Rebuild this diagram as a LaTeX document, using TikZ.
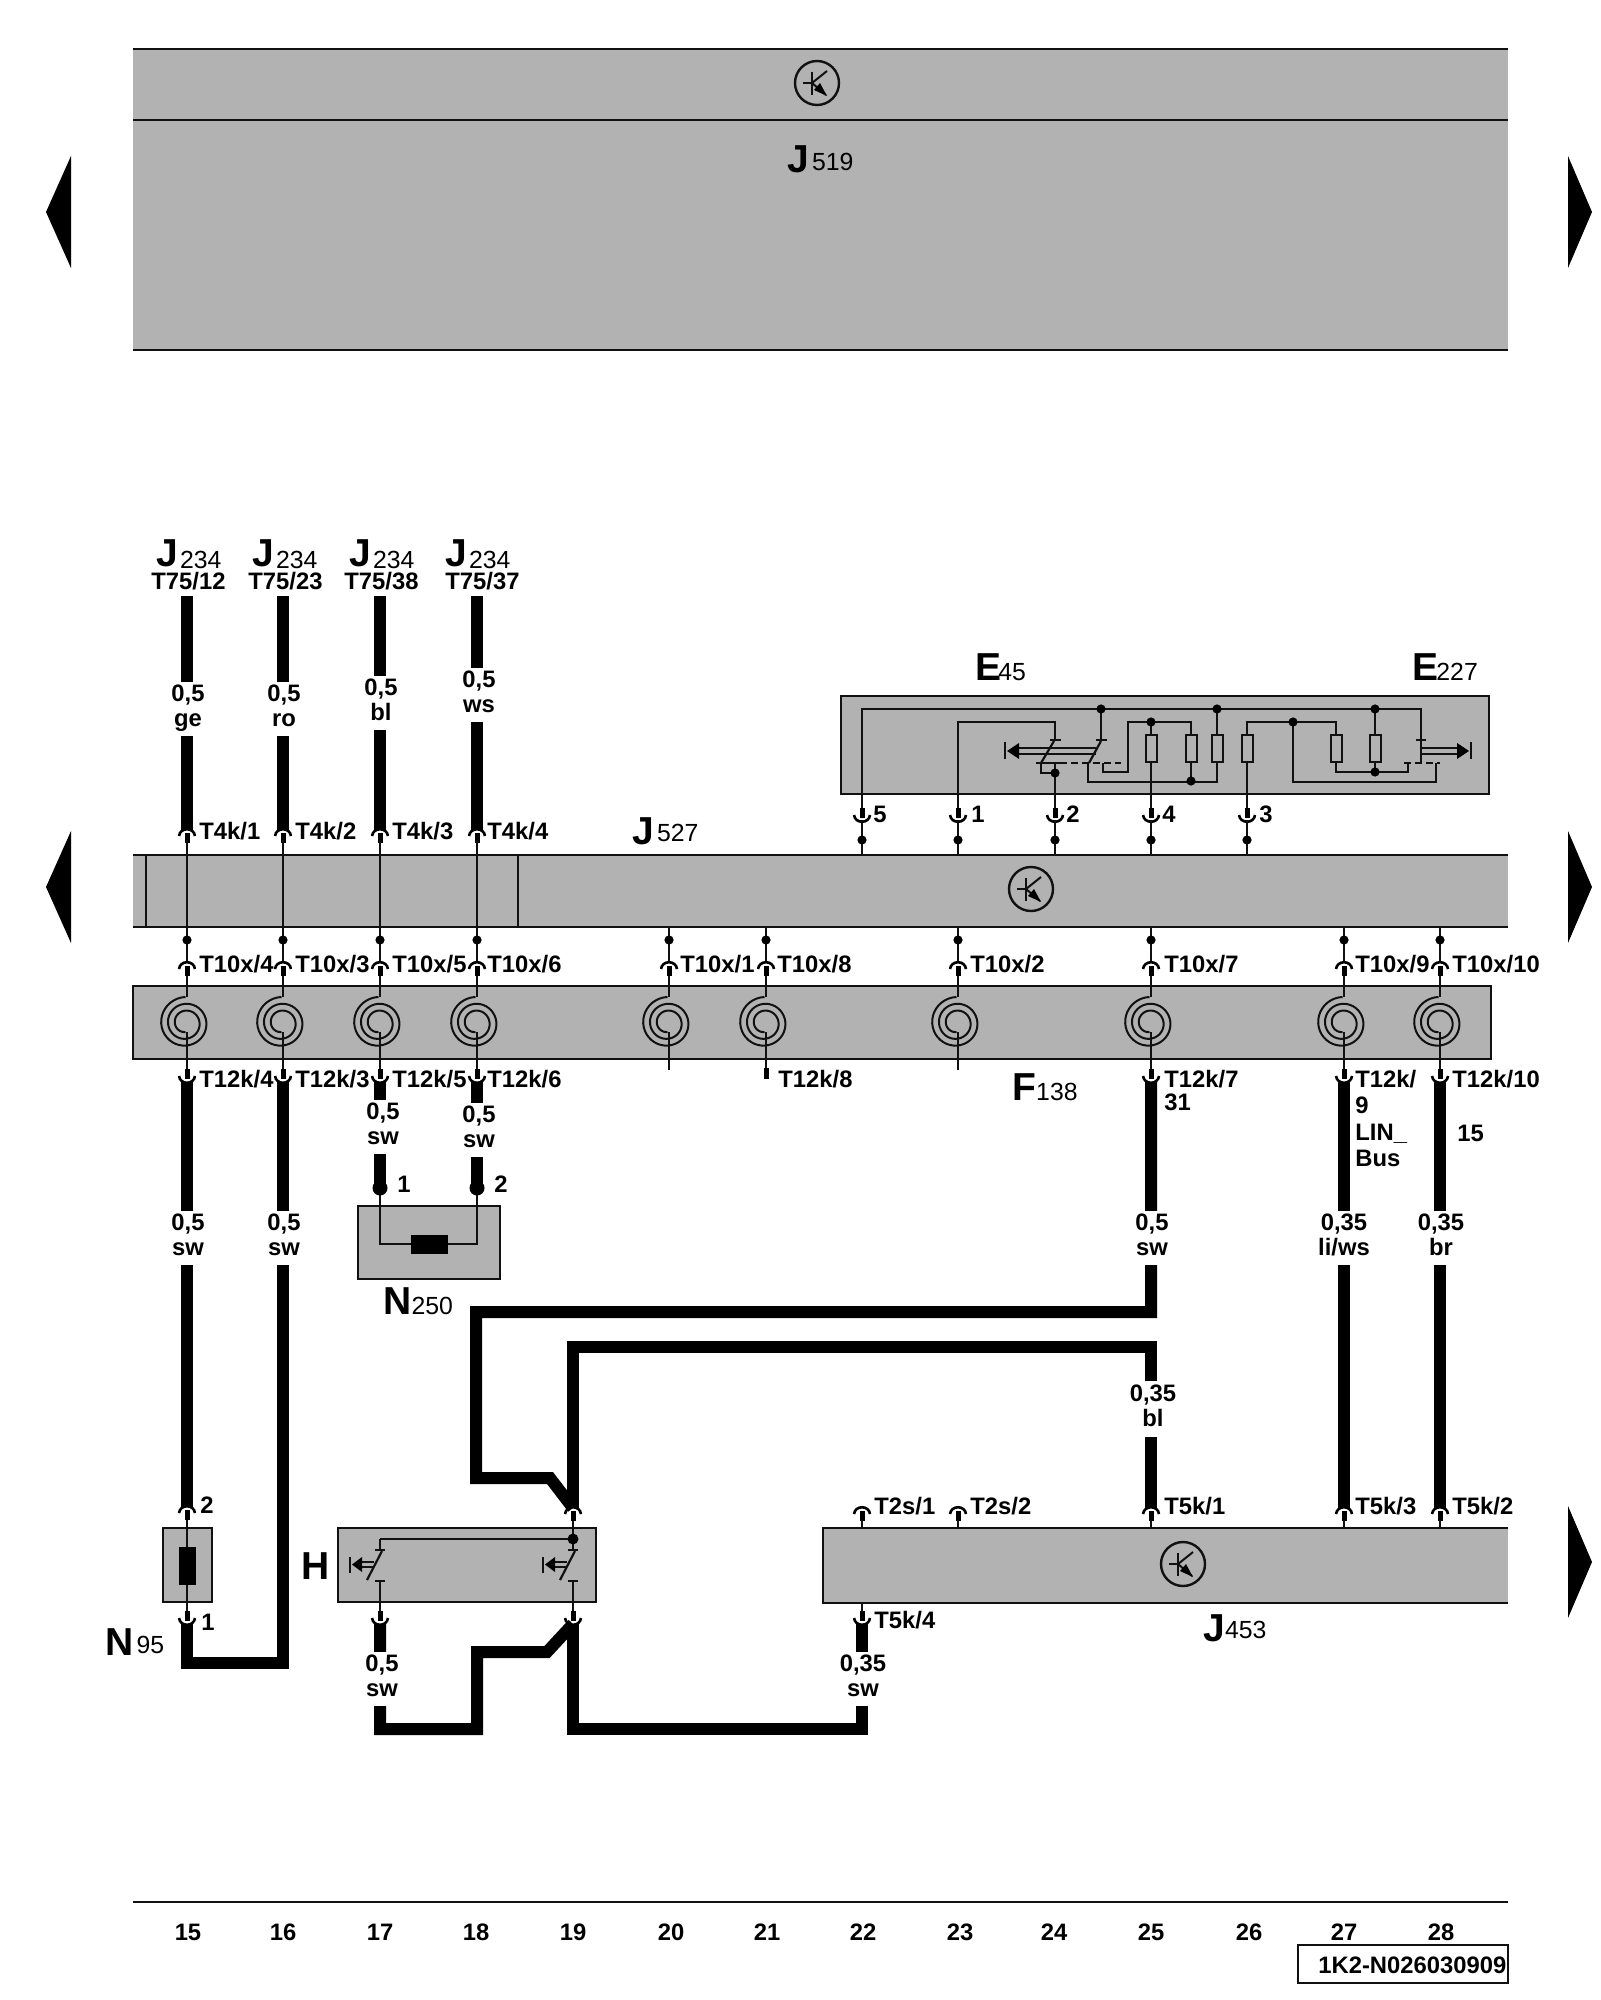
\documentclass[tikz,border=0pt]{standalone}
\usepackage{fontspec}
\setmainfont{Liberation Sans}
\usepackage{tikz}
\usetikzlibrary{positioning,arrows.meta}
\definecolor{barfill}{HTML}{B2B2B2}
\definecolor{inkline}{HTML}{111111}
\tikzset{
  thinw/.style={line width=1pt,inkline},
  wire/.style={line width=6pt,black,miter limit=10},
  pinw/.style={line width=2.5pt,black},
  archw/.style={line width=1.3pt,black},
  archgap/.style={line width=0.8pt,white},
  unitbox/.style={line width=1.1pt,inkline,fill=barfill},
  barline/.style={line width=1.1pt,inkline},
  txt/.style={inner sep=0pt,anchor=base west,font=\fontsize{11.9}{12.5}\selectfont\bfseries},
  num/.style={inner sep=0pt,anchor=base,font=\fontsize{11.9}{12.5}\selectfont\bfseries},
  gauge/.style={fill=white,inner xsep=1pt,inner ysep=0pt,minimum height=27pt,yshift=-1.2pt,align=center,font=\fontsize{11.9}{12.5}\selectfont\bfseries},
  resist/.style={draw=inkline,line width=1pt,fill=barfill,minimum width=5.5pt,minimum height=13.5pt,inner sep=0pt},
  contact/.style={line width=1.1pt,inkline}
}
\newcommand{\pinup}[3]{
  \draw[archw] (#2-8,#3+7) .. controls (#2-7,#3-2) and (#2+7,#3-2) .. (#2+8,#3+7);
  \draw[archgap] (#2-5,#3+8) .. controls (#2-4.5,#3+1) and (#2+4.5,#3+1) .. (#2+5,#3+8);
  \draw[pinw] (#2,#3+4) -- (#2,#3+14);
  \coordinate (#1) at (#2,#3+1);
}
\newcommand{\pindown}[3]{
  \draw[archw] (#2-8,#3-7) .. controls (#2-7,#3+2) and (#2+7,#3+2) .. (#2+8,#3-7);
  \draw[archgap] (#2-5,#3-8) .. controls (#2-4.5,#3-1) and (#2+4.5,#3-1) .. (#2+5,#3-8);
  \draw[pinw] (#2,#3-4) -- (#2,#3-14);
  \coordinate (#1) at (#2,#3-1);
}
\newcommand{\jdot}[2]{\fill[black] (#1,#2) circle (4.6);}
\newcommand{\spiralcoil}[2]{
  \draw[thinw,domain=90:990,samples=100,smooth,variable=\t] plot ({#1-1.5+(26-17*(\t-90)/900)*cos(\t)},{#2-(26-17*(\t-90)/900)*sin(\t)});
}
\newcommand{\ecusign}[2]{
  \draw[line width=1.2pt,inkline] (#1,#2) circle (22);
  \draw[thinw] (#1-14,#2) -- (#1-5,#2);
  \draw[thinw] (#1-5,#2-11) -- (#1-5,#2+12);
  \draw[thinw] (#1-5,#2) -- (#1+10,#2-12);
  \draw[thinw] (#1-5,#2) -- (#1+9,#2+12);
  \fill[black] (#1+10,#2+13) -- (#1-3,#2+7) -- (#1+3,#2) -- cycle;
}
\newcommand{\partlabel}[7]{
  \node[inner sep=0pt,anchor=base west,font=\fontsize{12.4}{13}\selectfont] (#1) at (#2,#3) {{\bfseries\fontsize{19.5}{20}\selectfont #4}\kern#6pt\raisebox{#7pt}{#5}};
}
\newcommand{\gl}[2]{#1\strut\\#2\strut}
\newcommand{\pushbutton}[1]{
  \draw[contact] (#1-5,1550) -- (#1+5,1550);
  \draw[contact] (#1+2,1551) -- (#1-13,1580);
  \draw[contact] (#1-5,1581) -- (#1+5,1581);
  \draw[thinw] (#1-20,1562) -- (#1-6,1562);
  \draw[thinw] (#1-20,1567) -- (#1-6,1567);
  \fill[black] (#1-28,1564.5) -- (#1-18,1557) -- (#1-18,1572) -- cycle;
  \draw[thinw] (#1-30,1557) -- (#1-30,1573);
}
\begin{document}
\begin{tikzpicture}[x=0.5pt,y=-0.5pt]
  \useasboundingbox (0,0) rectangle (1600,2000);
  \fill[barfill] (133,49) rectangle (1508,350);
  \draw[barline] (133,49) -- (1508,49);
  \draw[barline] (133,120) -- (1508,120);
  \draw[barline] (133,350) -- (1508,350);
  \ecusign{817}{83}
  \partlabel{j519}{787}{173}{J}{519}{1.5}{1}
  \fill[black] (71,156) -- (46,212) -- (71,268) -- cycle;
  \fill[black] (71,831) -- (46,887) -- (71,943) -- cycle;
  \fill[black] (1568,156) -- (1592,212) -- (1568,268) -- cycle;
  \fill[black] (1568,831) -- (1592,887) -- (1568,943) -- cycle;
  \fill[black] (1568,1506) -- (1592,1562) -- (1568,1618) -- cycle;
  \partlabel{ja}{156}{566}{J}{234}{1}{-1}
  \partlabel{jb}{252}{566}{J}{234}{1}{-1}
  \partlabel{jc}{349}{566}{J}{234}{1}{-1}
  \partlabel{jd}{445}{566}{J}{234}{1}{-1}
  \node[txt] (tia) at (151,589) {T75/12};
  \node[txt] (tib) at (248,589) {T75/23};
  \node[txt] (tic) at (344,589) {T75/38};
  \node[txt] (tid) at (445,589) {T75/37};

  \fill[barfill] (133,855) rectangle (1508,927);
  \draw[barline] (133,855) -- (1508,855);
  \draw[barline] (133,927) -- (1508,927);
  \draw[barline] (146,855) -- (146,927);
  \draw[barline] (518,855) -- (518,927);
  \ecusign{1031}{889}
  \partlabel{j527}{632}{844}{J}{527}{1.5}{1.5}

  \draw[unitbox] (841,696) rectangle (1489,794);
  \partlabel{efour}{975}{680}{E}{45}{-1.5}{0}
  \partlabel{etwo}{1412}{680}{E}{227}{-1}{0}
  \draw[thinw] (862,822) -- (862,709) -- (1421,709) -- (1421,762);
  \draw[thinw] (958,822) -- (958,722) -- (1055,722) -- (1055,740);
  \draw[thinw] (1055,822) -- (1055,763);
  \draw[thinw] (1041,763) -- (1041,773) -- (1055,773);
  \draw[thinw] (1101,709) -- (1101,740);
  \draw[thinw] (1088,763) -- (1088,782) -- (1217,782) -- (1217,709);
  \draw[thinw] (1103,763) -- (1103,772) -- (1128,772) -- (1128,722) -- (1191,722) -- (1191,782);
  \draw[thinw] (1151,822) -- (1151,722);
  \draw[thinw] (1247,822) -- (1247,722) -- (1336,722) -- (1336,772) -- (1408,772) -- (1408,763);
  \draw[thinw] (1293,722) -- (1293,782) -- (1436,782) -- (1436,763);
  \draw[thinw] (1375,709) -- (1375,772);
  \draw[contact] (1050,740) -- (1061,740);
  \draw[contact] (1096,740) -- (1107,740);
  \draw[contact] (1416,740) -- (1426,740);
  \draw[contact] (1054,741) -- (1041,763);
  \draw[contact] (1101,741) -- (1089,763);
  \draw[contact,dash pattern=on 7pt off 0pt] (1036,763) -- (1060,763);
  \draw[contact,dash pattern=on 3.5pt off 2pt] (1060,763) -- (1121,763);
  \draw[contact,dash pattern=on 3.5pt off 2pt] (1404,763) -- (1440,763);
  \draw[thinw] (1016,748) -- (1096,748);
  \draw[thinw] (1016,754) -- (1096,754);
  \fill[black] (1007,751) -- (1019,743) -- (1019,759) -- cycle;
  \draw[thinw] (1005,742) -- (1005,759);
  \draw[thinw] (1421,748) -- (1460,748);
  \draw[thinw] (1421,754) -- (1460,754);
  \fill[black] (1469,751) -- (1457,743) -- (1457,759) -- cycle;
  \draw[thinw] (1471,742) -- (1471,759);
  \node[resist] (ra) at (1151,748.5) {};
  \node[resist] (rb) at (1191,748.5) {};
  \node[resist] (rc) at (1217,748.5) {};
  \node[resist] (rd) at (1247,748.5) {};
  \node[resist] (re) at (1336,748.5) {};
  \node[resist] (rf) at (1375,748.5) {};
  \jdot{1101}{709}
  \jdot{1217}{709}
  \jdot{1375}{709}
  \jdot{1151}{722}
  \jdot{1293}{722}
  \jdot{1055}{773}
  \jdot{1375}{772}
  \jdot{1191}{781}

  \pindown{pfive}{862}{822}
  \pindown{pone}{958}{822}
  \pindown{ptwo}{1055}{822}
  \pindown{pfour}{1151}{822}
  \pindown{pthree}{1247}{822}
  \draw[thinw] (pfive) -- (862,855);
  \draw[thinw] (pone) -- (958,855);
  \draw[thinw] (ptwo) -- (1055,855);
  \draw[thinw] (pfour) -- (1151,855);
  \draw[thinw] (pthree) -- (1247,855);
  \jdot{862}{840}
  \jdot{958}{840}
  \jdot{1055}{840}
  \jdot{1151}{840}
  \jdot{1247}{840}
  \node[txt] (nfive) at (873,822) {5};
  \node[txt] (none) at (971,822) {1};
  \node[txt] (ntwo) at (1066,822) {2};
  \node[txt] (nfour) at (1162,822) {4};
  \node[txt] (nthree) at (1259,822) {3};

  \pinup{aa}{187}{829}
  \pinup{ab}{283}{829}
  \pinup{ac}{380}{829}
  \pinup{ad}{477}{829}
  \draw[thinw] (187,840) -- (187,962);
  \draw[thinw] (283,840) -- (283,962);
  \draw[thinw] (380,840) -- (380,962);
  \draw[thinw] (477,840) -- (477,962);
  \node[txt] (tfa) at (199,839) {T4k/1};
  \node[txt] (tfb) at (295,839) {T4k/2};
  \node[txt] (tfc) at (392,839) {T4k/3};
  \node[txt] (tfd) at (487,839) {T4k/4};

  \coordinate (wat) at (187,596);
  \coordinate (wbt) at (283,596);
  \coordinate (wct) at (380,596);
  \coordinate (wdt) at (477,596);
  \draw[wire] (wat) -- (aa);
  \draw[wire] (wbt) -- (ab);
  \draw[wire] (wct) -- (ac);
  \draw[wire] (wdt) -- (ad);
  \node[gauge] (ga) at (188,707) {\gl{0,5}{ge}};
  \node[gauge] (gb) at (284,707) {\gl{0,5}{ro}};
  \node[gauge] (gc) at (381,701) {\gl{0,5}{bl}};
  \node[gauge] (gd) at (479,693) {\gl{0,5}{ws}};

  \fill[barfill] (133,986) rectangle (1491,1059);
  \draw[barline] (133,986) rectangle (1491,1059);
  \partlabel{f138}{1012}{1100}{F}{138}{0}{0}
  \draw[thinw] (669,927) -- (669,962);
  \draw[thinw] (766,927) -- (766,962);
  \draw[thinw] (958,927) -- (958,962);
  \draw[thinw] (1151,927) -- (1151,962);
  \draw[thinw] (1344,927) -- (1344,962);
  \draw[thinw] (1440,927) -- (1440,962);
  \jdot{187}{940}
  \jdot{283}{940}
  \jdot{380}{940}
  \jdot{477}{940}
  \jdot{669}{940}
  \jdot{766}{940}
  \jdot{958}{940}
  \jdot{1151}{940}
  \jdot{1344}{940}
  \jdot{1440}{940}
  \pinup{xa}{187}{962}
  \pinup{xb}{283}{962}
  \pinup{xc}{380}{962}
  \pinup{xd}{477}{962}
  \pinup{xe}{669}{962}
  \pinup{xf}{766}{962}
  \pinup{xg}{958}{962}
  \pinup{xh}{1151}{962}
  \pinup{xi}{1344}{962}
  \pinup{xj}{1440}{962}
  \node[txt] (txa) at (199,972) {T10x/4};
  \node[txt] (txb) at (295,972) {T10x/3};
  \node[txt] (txc) at (392,972) {T10x/5};
  \node[txt] (txd) at (487,972) {T10x/6};
  \node[txt] (txe) at (680,972) {T10x/1};
  \node[txt] (txf) at (777,972) {T10x/8};
  \node[txt] (txg) at (970,972) {T10x/2};
  \node[txt] (txh) at (1164,972) {T10x/7};
  \node[txt] (txi) at (1355,972) {T10x/9};
  \node[txt] (txj) at (1452,972) {T10x/10};
  \draw[thinw] (187,976) -- (187,997);
  \draw[thinw] (283,976) -- (283,997);
  \draw[thinw] (380,976) -- (380,997);
  \draw[thinw] (477,976) -- (477,997);
  \draw[thinw] (669,976) -- (669,997);
  \draw[thinw] (766,976) -- (766,997);
  \draw[thinw] (958,976) -- (958,997);
  \draw[thinw] (1151,976) -- (1151,997);
  \draw[thinw] (1344,976) -- (1344,997);
  \draw[thinw] (1440,976) -- (1440,997);
  \spiralcoil{187}{1023}
  \spiralcoil{283}{1023}
  \spiralcoil{380}{1023}
  \spiralcoil{477}{1023}
  \spiralcoil{669}{1023}
  \spiralcoil{766}{1023}
  \spiralcoil{958}{1023}
  \spiralcoil{1151}{1023}
  \spiralcoil{1344}{1023}
  \spiralcoil{1440}{1023}
  \draw[thinw] (187,1032) -- (187,1070);
  \draw[thinw] (283,1032) -- (283,1070);
  \draw[thinw] (380,1032) -- (380,1070);
  \draw[thinw] (477,1032) -- (477,1070);
  \draw[thinw] (669,1032) -- (669,1070);
  \draw[thinw] (766,1032) -- (766,1070);
  \draw[thinw] (958,1032) -- (958,1070);
  \draw[thinw] (1151,1032) -- (1151,1070);
  \draw[thinw] (1344,1032) -- (1344,1070);
  \draw[thinw] (1440,1032) -- (1440,1070);
  \draw[pinw] (766,1068) -- (766,1079);

  \pindown{ya}{187}{1083}
  \pindown{yb}{283}{1083}
  \pindown{yc}{380}{1083}
  \pindown{yd}{477}{1083}
  \pindown{yh}{1151}{1083}
  \pindown{yi}{1344}{1083}
  \pindown{yj}{1440}{1083}
  \node[txt] (tka) at (199,1087) {T12k/4};
  \node[txt] (tkb) at (295,1087) {T12k/3};
  \node[txt] (tkc) at (392,1087) {T12k/5};
  \node[txt] (tkd) at (487,1087) {T12k/6};
  \node[txt] (tkf) at (778,1087) {T12k/8};
  \node[txt] (tkh) at (1164,1087) {T12k/7};
  \node[txt] (tkho) at (1164,1110) {31};
  \node[txt] (tki) at (1355,1087) {T12k/};
  \node[txt] (tkie) at (1355,1113) {9};
  \node[txt] (tkil) at (1355,1140) {LIN\_};
  \node[txt] (tkib) at (1355,1166) {Bus};
  \node[txt] (tkj) at (1452,1087) {T12k/10};
  \node[txt] (tkjf) at (1457,1141) {15};

  \draw[unitbox] (163,1528) rectangle (212,1602);
  \draw[unitbox] (338,1528) rectangle (596,1602);
  \fill[barfill] (823,1528) rectangle (1508,1603);
  \draw[barline] (1508,1528) -- (823,1528) -- (823,1603) -- (1508,1603);
  \ecusign{1183}{1564}
  \partlabel{j453}{1203}{1641}{J}{453}{0}{1.5}
  \partlabel{h}{301}{1579}{H}{}{0}{0}
  \partlabel{n95}{105}{1655}{N}{95}{1.5}{1}
  \partlabel{n250}{383}{1314}{N}{250}{0}{0}

  \draw[thinw] (187,1514) -- (187,1620);
  \node[draw=black,fill=black,minimum width=8pt,minimum height=18.5pt,inner sep=0pt] (nblock) at (187,1565.5) {};
  \pinup{la}{187}{1506}
  \pindown{lb}{187}{1625}
  \node[txt] (ntb) at (200,1513) {2};
  \node[txt] (nta) at (201,1630) {1};

  \draw[unitbox] (358,1206) rectangle (500,1279);
  \coordinate (mleft) at (380,1188);
  \coordinate (mright) at (477,1188);
  \draw[thinw] (mleft) -- (380,1244) -- (477,1244) -- (mright);
  \node[draw=black,fill=black,minimum width=18pt,minimum height=9pt,inner sep=0pt] (mblock) at (429,1244) {};
  \draw[wire] (yc) -- (mleft);
  \draw[wire] (yd) -- (mright);
  \fill[black] (mleft) circle (7.5);
  \fill[black] (mright) circle (7.5);
  \node[gauge] (gmc) at (383,1125) {\gl{0,5}{sw}};
  \node[gauge] (gmd) at (479,1128) {\gl{0,5}{sw}};
  \node[txt] (nma) at (397,1192) {1};
  \node[txt] (nmb) at (494,1192) {2};

  \draw[thinw] (380,1539) -- (573,1539);
  \draw[thinw] (380,1539) -- (380,1550);
  \draw[thinw] (573,1518) -- (573,1550);
  \draw[thinw] (380,1581) -- (380,1612);
  \draw[thinw] (573,1581) -- (573,1612);
  \pushbutton{380}
  \pushbutton{573}
  \fill[black] (573,1539) circle (5.5);
  \pinup{hb}{573}{1507}
  \pindown{ha}{380}{1625}
  \pindown{hc}{573}{1625}

  \pinup{tsa}{862}{1507}
  \pinup{tsb}{958}{1507}
  \pinup{tsh}{1151}{1507}
  \pinup{tsi}{1344}{1507}
  \pinup{tsj}{1440}{1507}
  \draw[thinw] (862,1520) -- (862,1528);
  \draw[thinw] (958,1520) -- (958,1528);
  \draw[thinw] (1151,1520) -- (1151,1528);
  \draw[thinw] (1344,1520) -- (1344,1528);
  \draw[thinw] (1440,1520) -- (1440,1528);
  \pindown{cfour}{862}{1625}
  \draw[thinw] (862,1603) -- (862,1612);
  \node[txt] (tta) at (874,1514) {T2s/1};
  \node[txt] (ttb) at (970,1514) {T2s/2};
  \node[txt] (ttc) at (1164,1514) {T5k/1};
  \node[txt] (ttd) at (1355,1514) {T5k/3};
  \node[txt] (tte) at (1452,1514) {T5k/2};
  \node[txt] (ttf) at (874,1628) {T5k/4};

  \coordinate (ea) at (187,1663);
  \coordinate (eb) at (283,1663);
  \draw[wire] (ya) -- (la);
  \draw[wire] (yb) -- (eb) -- (ea) -- (lb);
  \node[gauge] (gla) at (188,1236) {\gl{0,5}{sw}};
  \node[gauge] (glb) at (284,1236) {\gl{0,5}{sw}};

  \coordinate (fa) at (1151,1312);
  \coordinate (fb) at (476,1312);
  \coordinate (fc) at (476,1478);
  \coordinate (fd) at (550,1478);
  \draw[wire] (yh) -- (fa) -- (fb) -- (fc) -- (fd) -- (hb);
  \node[gauge] (glh) at (1152,1236) {\gl{0,5}{sw}};
  \coordinate (fe) at (1151,1347);
  \coordinate (ff) at (573,1347);
  \draw[wire] (tsh) -- (fe) -- (ff) -- (hb);
  \node[gauge,minimum height=28pt] (gle) at (1153,1407) {\gl{0,35}{bl}};
  \draw[wire] (yi) -- (tsi);
  \draw[wire] (yj) -- (tsj);
  \node[gauge] (gli) at (1344,1236) {\gl{0,35}{li/ws}};
  \node[gauge] (glj) at (1441,1236) {\gl{0,35}{br}};

  \coordinate (ga1) at (380,1729);
  \coordinate (ga2) at (477,1729);
  \coordinate (ga3) at (477,1652);
  \coordinate (ga4) at (547,1652);
  \draw[wire] (ha) -- (ga1) -- (ga2) -- (ga3) -- (ga4) -- (hc);
  \node[gauge] (gha) at (382,1677) {\gl{0,5}{sw}};
  \coordinate (gb1) at (862,1729);
  \coordinate (gb2) at (573,1729);
  \draw[wire] (cfour) -- (gb1) -- (gb2) -- (hc);
  \node[gauge] (ghb) at (863,1677) {\gl{0,35}{sw}};

  \draw[barline] (133,1902) -- (1508,1902);
  \node[num] (c15) at (188,1940) {15};
  \node[num] (c16) at (283,1940) {16};
  \node[num] (c17) at (380,1940) {17};
  \node[num] (c18) at (476,1940) {18};
  \node[num] (c19) at (573,1940) {19};
  \node[num] (c20) at (671,1940) {20};
  \node[num] (c21) at (767,1940) {21};
  \node[num] (c22) at (863,1940) {22};
  \node[num] (c23) at (960,1940) {23};
  \node[num] (c24) at (1054,1940) {24};
  \node[num] (c25) at (1151,1940) {25};
  \node[num] (c26) at (1249,1940) {26};
  \node[num] (c27) at (1344,1940) {27};
  \node[num] (c28) at (1441,1940) {28};
  \draw[barline] (1298,1945) rectangle (1508,1983);
  \node[txt] (code) at (1318,1973) {1K2-N026030909};
\end{tikzpicture}
\end{document}
